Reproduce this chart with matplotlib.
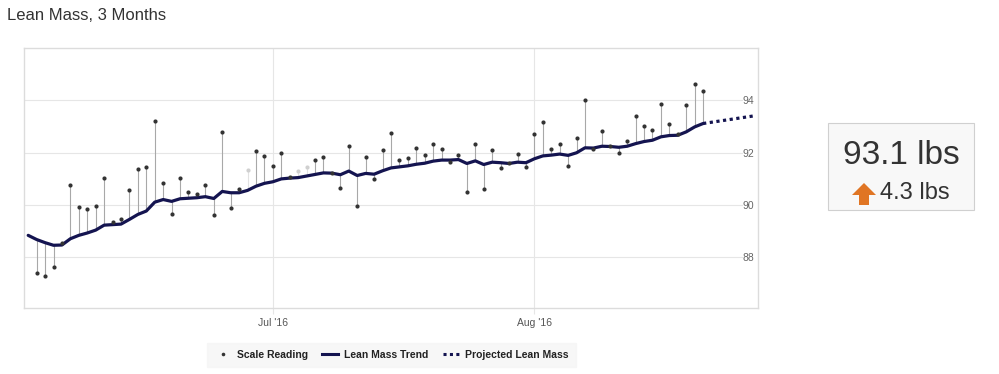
import numpy as np
import pandas as pd
import matplotlib
matplotlib.use("Agg")
import matplotlib.pyplot as plt
import matplotlib.dates as mdates
from matplotlib.lines import Line2D
from matplotlib.patches import Rectangle, Polygon

# =================================
# Data
# =================================
trend_start = "2016-06-02"
trend_values = [
    88.83, 88.67, 88.55, 88.45, 88.46, 88.70, 88.83, 88.92, 89.03, 89.22,
    89.24, 89.26, 89.44, 89.63, 89.76, 90.10, 90.20, 90.13, 90.23, 90.25,
    90.27, 90.31, 90.24, 90.51, 90.46, 90.46, 90.55, 90.71, 90.82, 90.88,
    90.99, 91.02, 91.04, 91.10, 91.16, 91.22, 91.21, 91.15, 91.29, 91.12,
    91.20, 91.17, 91.30, 91.41, 91.45, 91.49, 91.55, 91.59, 91.67, 91.71,
    91.71, 91.73, 91.58, 91.68, 91.54, 91.63, 91.61, 91.58, 91.63, 91.61,
    91.76, 91.87, 91.90, 91.94, 91.89, 91.99, 92.18, 92.17, 92.24, 92.23,
    92.20, 92.24, 92.34, 92.42, 92.47, 92.60, 92.65, 92.66, 92.79, 92.98,
    93.11,
]

reading_start = "2016-06-03"
readings = [
    87.40, 87.26, 87.62, 88.55, 90.74, 89.90, 89.82, 89.97, 91.04, 89.35,
    89.46, 90.56, 91.35, 91.46, 93.22, 90.84, 89.63, 91.04, 90.48, 90.42,
    90.76, 89.62, 92.79, 89.86, 90.59, 91.32, 92.05, 91.87, 91.50, 91.99,
    91.07, 91.28, 91.45, 91.73, 91.81, 91.21, 90.66, 92.25, 89.97, 91.82,
    90.97, 92.08, 92.75, 91.72, 91.78, 92.19, 91.90, 92.32, 92.13, 91.64,
    91.89, 90.50, 92.31, 90.62, 92.11, 91.39, 91.60, 91.94, 91.45, 92.71,
    93.15, 92.14, 92.32, 91.50, 92.56, 94.00, 92.15, 92.82, 92.24, 91.99,
    92.43, 93.39, 93.00, 92.85, 93.87, 93.11, 92.70, 93.83, 94.61, 94.34,
]
# readings shown faded (1-based position in readings)
faded_readings = [26, 32, 33]

proj_dates = ["2016-08-21", "2016-08-27"]
proj_values = [93.11, 93.40]

y_ticks = [88, 90, 92, 94]
x_ticks = ["2016-07-01", "2016-08-01"]
x_tick_labels = ["Jul '16", "Aug '16"]

current_value = "93.1 lbs"
change_value = "4.3 lbs"

# =================================
# Styles
# =================================
NAVY = "#141450"
GRID = "#e6e6e6"
FONT = "Liberation Sans"

trend_dates = pd.date_range(trend_start, periods=len(trend_values), freq="D")
read_dates = pd.date_range(reading_start, periods=len(readings), freq="D")
trend_at_read = np.array(trend_values[1:])
readings = np.array(readings)
faded = np.zeros(len(readings), dtype=bool)
faded[np.array(faded_readings) - 1] = True

fig = plt.figure(figsize=(9.99, 3.74), dpi=100)
ax = fig.add_axes([0.024, 0.1765, 0.7347, 0.6952])

# grid
for v in y_ticks:
    ax.axhline(v, xmax=0.978, color=GRID, lw=0.8, zorder=0)
for d in pd.to_datetime(x_ticks):
    ax.axvline(d, color=GRID, lw=0.8, zorder=0)

# stems from reading to trend
ok = ~faded
ax.vlines(read_dates[ok], readings[ok], trend_at_read[ok],
          color="#a8a8a8", lw=0.8, zorder=1)
ax.vlines(read_dates[faded], readings[faded], trend_at_read[faded],
          color="#e2e2e2", lw=0.8, zorder=1)

# trend + projection
ax.plot(trend_dates, trend_values, color=NAVY, lw=2.3, zorder=3,
        solid_capstyle="round", solid_joinstyle="round")
ax.plot(pd.to_datetime(proj_dates), proj_values, color=NAVY, lw=2.3,
        linestyle=(0, (1, 1.1)), zorder=3)

# scale readings
ax.plot(read_dates[ok], readings[ok], "o", color="#333333", ms=3.0, mew=0,
        zorder=4)
ax.plot(read_dates[faded], readings[faded], "o", color="#d0d0d0", ms=3.0,
        mew=0, zorder=4)

ax.set_ylim(86.05, 96.0)
ax.set_xlim(pd.Timestamp("2016-06-01 12:00"), pd.Timestamp("2016-08-27 12:00"))

ax.set_yticks(y_ticks)
ax.yaxis.tick_right()
ax.tick_params(axis="y", length=0, pad=-11, labelsize=7.5,
               labelcolor="#666666")
ax.set_xticks(pd.to_datetime(x_ticks))
ax.set_xticklabels(x_tick_labels)
ax.tick_params(axis="x", length=4, color=GRID, pad=3, labelsize=7.5,
               labelcolor="#555555")
for lab in ax.get_xticklabels() + ax.get_yticklabels():
    lab.set_fontfamily(FONT)
for s in ax.spines.values():
    s.set_color("#dcdcdc")
    s.set_linewidth(1.0)

# title
fig.text(0.007, 1 - 15 / 374, "Lean Mass, 3 Months", fontsize=12,
         family=FONT, color="#333333", va="center", ha="left")

# legend
handles = [
    Line2D([], [], marker="o", ms=2.6, mew=0, color="#333333", lw=0),
    Line2D([], [], color=NAVY, lw=2.2),
    Line2D([], [], color=NAVY, lw=2.2, linestyle=(0, (1, 1.1))),
]
labels = ["Scale Reading", "Lean Mass Trend", "Projected Lean Mass"]
leg = fig.legend(handles, labels, loc="center", ncol=3,
                 bbox_to_anchor=(0.392, 1 - 355 / 374), frameon=True,
                 fancybox=False, facecolor="#f5f5f5", edgecolor="#f5f5f5",
                 handlelength=1.5, columnspacing=1.4, handletextpad=0.6,
                 borderpad=0.7,
                 prop={"family": FONT, "weight": "bold", "size": 7.5})
for t in leg.get_texts():
    t.set_color("#222222")

# current value box
fig.patches.append(Rectangle((828 / 999, 1 - 210 / 374), 146 / 999, 87 / 374,
                             transform=fig.transFigure, facecolor="#f8f8f8",
                             edgecolor="#d0d0d0", lw=0.8))
fig.text(901 / 999, 1 - 155 / 374, current_value, fontsize=24, family=FONT,
         color="#333333", ha="center", va="center")
fig.text(880 / 999, 1 - 193 / 374, change_value, fontsize=17, family=FONT,
         color="#333333", ha="left", va="center")
arrow_px = [(864, 183), (876, 195), (869, 195), (869, 205),
            (859, 205), (859, 195), (852, 195)]
fig.patches.append(Polygon([(x / 999, 1 - y / 374) for x, y in arrow_px],
                           closed=True, transform=fig.transFigure,
                           facecolor="#e07524", edgecolor="none"))

fig.savefig("out.png", dpi=100)
